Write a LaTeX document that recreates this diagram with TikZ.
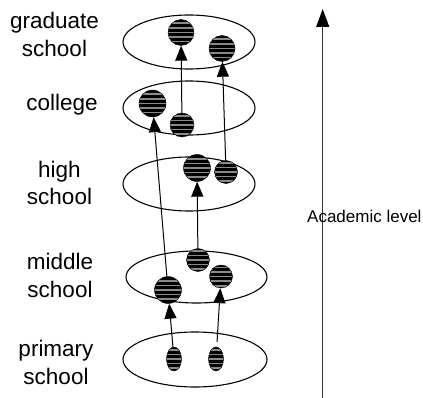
\documentclass[tikz,border=0pt]{standalone}
\usepackage{fontspec}
\setmainfont{Liberation Sans}
\usetikzlibrary{arrows.meta,shapes.geometric}
\definecolor{stripegray}{HTML}{8A8A8A}
\definecolor{axisgray}{HTML}{333333}
\begin{document}
\begin{tikzpicture}[x=1pt,y=-1pt,
  stage/.style={ellipse, draw=black, line width=1.1pt, inner sep=0pt},
  striped/.style={fill=black, draw=black, inner sep=0pt,
    path picture={\foreach \k in {-2,...,2}
      \fill[stripegray] ([xshift=-20pt,yshift=\k*4.6pt-0.8pt]path picture bounding box.center)
        rectangle ++(40pt,1.6pt);}},
  ball/.style={circle, striped, minimum size=#1},
  pellet/.style={ellipse, striped, minimum width=15pt, minimum height=24pt},
  link/.style={line width=1pt, -{Triangle[width=12pt,length=15pt]}},
  levelname/.style={align=center, anchor=base, inner sep=0pt,
    font=\fontsize{22.5}{28}\selectfont}]
\useasboundingbox (0,0) rectangle (423,398);

% the five stages
\node[stage, minimum width=132pt, minimum height=54pt] (gs) at (189,42) {};
\node[stage, minimum width=132pt, minimum height=54pt] (co) at (189,108) {};
\node[stage, minimum width=132pt, minimum height=54pt] (hs) at (189,184) {};
\node[stage, minimum width=141pt, minimum height=52pt] (ms) at (196.5,277) {};
\node[stage, minimum width=144pt, minimum height=55pt] (ps) at (195,359.5) {};

% students in each stage
\node[ball=26pt] (g1) at (181,32.5) {};
\node[ball=26pt] (g2) at (222,48.5) {};
\node[ball=27pt] (c1) at (152.5,103.5) {};
\node[ball=24pt] (c2) at (182,125) {};
\node[ball=27pt] (h1) at (197,168) {};
\node[ball=23pt] (h2) at (226,172) {};
\node[ball=23pt] (m1) at (198,260) {};
\node[ball=23pt] (m2) at (221,276.5) {};
\node[ball=27pt] (m3) at (168,290) {};
\node[pellet] (p1) at (174,359) {};
\node[pellet] (p2) at (216,359) {};

% paths between stages
\draw[link] (p1) -- (m3);
\draw[link, shorten <=5pt] (p2) -- (m2);
\draw[link] (m3) -- (c1);
\draw[link] (m1) -- (h1);
\draw[link] (h2) -- (g2);
\draw[link] (c2) -- (g1);

% level names (anchored at the baseline of the last line)
\node[levelname] (lg) at (54.5,57) {graduate\\school};
\node[levelname] (lc) at (62,111) {college};
\node[levelname] (lh) at (59.5,205) {high\\school};
\node[levelname] (lm) at (60,297) {middle\\school};
\node[levelname] (lp) at (56,384) {primary\\school};

% axis
\coordinate (axbot) at (322.7,398);
\coordinate (axtop) at (322.7,9);
\draw[axisgray, line width=1.1pt, -{Triangle[width=13pt,length=18pt,color=black]}] (axbot) -- (axtop);
\node[anchor=base west, inner sep=0pt, font=\fontsize{17}{20}\selectfont] (al) at (307,223) {Academic level};
\end{tikzpicture}
\end{document}
